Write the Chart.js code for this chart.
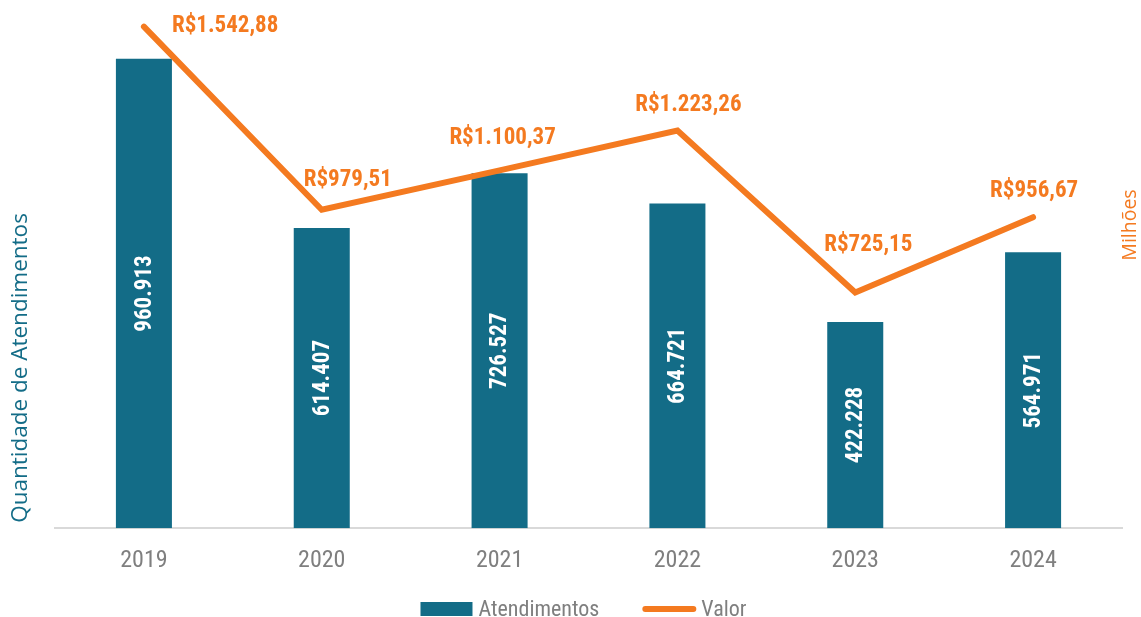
<!DOCTYPE html>
<html><head><meta charset="utf-8">
<script src="https://cdn.jsdelivr.net/npm/chart.js@4"></script>
<style>html,body{margin:0;padding:0;background:#fff;}#wrap{width:1141px;height:617px;}</style>
</head><body><div id="wrap"><canvas id="c" width="1141" height="617"></canvas></div>
<script>
const categories = ['2019', '2020', '2021', '2022', '2023', '2024'];
const atendimentos = [960913, 614407, 726527, 664721, 422228, 564971];
const valorMilhoes = [1542.88, 979.51, 1100.37, 1223.26, 725.15, 956.67];
const seriesNames = ['Atendimentos', 'Valor'];
const axisTitles = ['Quantidade de Atendimentos', 'Milhões'];

const TEAL = '#136C87';
const ORANGE = '#F47A20';
const GRAY = '#7f7f7f';
const NARROW = '"Liberation Sans Narrow", "Arial Narrow", "Roboto Condensed", Roboto, sans-serif';
const TITLEFONT = '"Open Sans", "Noto Sans", sans-serif';

function fmtInt(n) { return String(Math.round(n)).replace(/\B(?=(\d{3})+(?!\d))/g, '.'); }
function fmtBRL(v) {
  const parts = v.toFixed(2).split('.');
  return 'R$' + parts[0].replace(/\B(?=(\d{3})+(?!\d))/g, '.') + ',' + parts[1];
}

// label nudges relative to each line point (dx, dy of label)
const lineLabelNudge = [[28, 0, 'left'], [26, -29], [3, -32], [11, -25], [13, -47], [1, -26]];

const labelsPlugin = {
  id: 'valueLabels',
  afterDatasetsDraw(chart) {
    const ctx = chart.ctx;
    const barMeta = chart.getDatasetMeta(0);
    ctx.save();
    ctx.fillStyle = '#ffffff';
    ctx.font = 'bold 23px ' + NARROW;
    ctx.textAlign = 'center';
    ctx.textBaseline = 'middle';
    barMeta.data.forEach((el, i) => {
      const cy = (el.y + el.base) / 2;
      ctx.save();
      ctx.translate(el.x, cy);
      ctx.rotate(-Math.PI / 2);
      ctx.fillText(fmtInt(chart.data.datasets[0].data[i]), 0, 1);
      ctx.restore();
    });
    const lineMeta = chart.getDatasetMeta(1);
    ctx.fillStyle = ORANGE;
    ctx.font = 'bold 23px ' + NARROW;
    lineMeta.data.forEach((pt, i) => {
      const n = lineLabelNudge[i] || [0, -28];
      ctx.textAlign = n[2] || 'center';
      ctx.fillText(fmtBRL(chart.data.datasets[1].data[i]), pt.x + n[0], pt.y + n[1]);
    });
    ctx.restore();
  },
  afterDraw(chart) {
    const ctx = chart.ctx;
    const ca = chart.chartArea;
    ctx.save();
    // axis titles
    ctx.textAlign = 'center';
    ctx.textBaseline = 'middle';
    ctx.font = '22.5px ' + TITLEFONT;
    ctx.fillStyle = TEAL;
    ctx.save();
    ctx.translate(21, 368);
    ctx.rotate(-Math.PI / 2);
    ctx.fillText(axisTitles[0], 0, 0);
    ctx.restore();
    ctx.font = '19.5px ' + TITLEFONT;
    ctx.fillStyle = ORANGE;
    ctx.save();
    ctx.translate(1130, 225);
    ctx.rotate(-Math.PI / 2);
    ctx.fillText(axisTitles[1], 0, 0);
    ctx.restore();

    // legend
    ctx.font = '22px ' + NARROW;
    ctx.textAlign = 'left';
    const w1 = ctx.measureText(seriesNames[0]).width;
    const w2 = ctx.measureText(seriesNames[1]).width;
    const total = 52 + 6 + w1 + 43 + 54 + 5 + w2;
    let x = (ca.left + ca.right) / 2 - 5 - total / 2;
    const y = 609;
    ctx.fillStyle = TEAL;
    ctx.fillRect(x, y - 7, 52, 14);
    x += 52 + 6;
    ctx.fillStyle = GRAY;
    ctx.fillText(seriesNames[0], x, y + 1);
    x += w1 + 43;
    ctx.strokeStyle = ORANGE;
    ctx.lineWidth = 6;
    ctx.lineCap = 'round';
    ctx.beginPath();
    ctx.moveTo(x + 3, y);
    ctx.lineTo(x + 51, y);
    ctx.stroke();
    x += 54 + 5;
    ctx.fillStyle = GRAY;
    ctx.fillText(seriesNames[1], x, y + 1);
    ctx.restore();
  }
};

new Chart(document.getElementById('c'), {
  data: {
    labels: categories,
    datasets: [
      {
        type: 'bar',
        label: seriesNames[0],
        data: atendimentos,
        backgroundColor: TEAL,
        borderWidth: 0,
        yAxisID: 'y',
        categoryPercentage: 1,
        barPercentage: 0.315,
        order: 2
      },
      {
        type: 'line',
        label: seriesNames[1],
        data: valorMilhoes,
        borderColor: ORANGE,
        backgroundColor: ORANGE,
        borderWidth: 6,
        borderCapStyle: 'round',
        borderJoinStyle: 'miter',
        pointRadius: 0,
        pointHoverRadius: 0,
        tension: 0,
        yAxisID: 'y1',
        order: 1
      }
    ]
  },
  options: {
    responsive: false,
    animation: false,
    devicePixelRatio: 1,
    layout: { padding: { left: 55, right: 19, top: 8, bottom: 32 } },
    plugins: {
      legend: { display: false },
      tooltip: { enabled: false },
      title: { display: false }
    },
    scales: {
      x: {
        offset: true,
        grid: { display: false },
        border: { display: true, color: '#d9d9d9', width: 2 },
        ticks: { color: GRAY, font: { family: NARROW, size: 24 }, padding: 10 }
      },
      y: { display: false, min: 0, max: 1065000 },
      y1: { display: false, position: 'right', min: 0, max: 1600 }
    }
  },
  plugins: [labelsPlugin]
});
</script>
</body></html>
